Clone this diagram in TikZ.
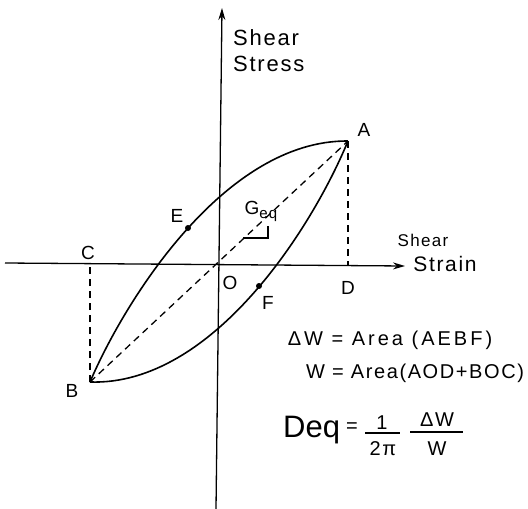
\documentclass[tikz,border=0pt]{standalone}
\usepackage{fontspec}
\setmainfont{Liberation Sans}
\newfontfamily\hand[LetterSpace=8]{Liberation Sans}
\newfontfamily\handwide[LetterSpace=15]{Liberation Sans}
\usetikzlibrary{arrows.meta}
\begin{document}
\begin{tikzpicture}[x=1pt,y=-1pt,
  axis/.style={line width=1.3pt,-{Stealth[length=12pt,width=7pt]}},
  curve/.style={line width=1.6pt},
  dashline/.style={line width=1.3pt,dash pattern=on 7pt off 5pt},
  lbl/.style={font=\hand\fontsize{19}{21}\selectfont,inner sep=0pt},
  eqn/.style={font=\hand\fontsize{20}{22}\selectfont,inner sep=0pt},
  bar/.style={line width=1.2pt},
  dot/.style={circle,fill=black,inner sep=0pt,minimum size=6pt}]
\useasboundingbox (0,0) rectangle (528,509);
\coordinate (O) at (219,263);
\coordinate (A) at (348,141);
\coordinate (B) at (90,382);
\coordinate (C) at (90,264);
\coordinate (D) at (348,266);
\coordinate (xl) at (5,263);
\coordinate (xr) at (405,266);
\coordinate (yb) at (216,509);
\coordinate (yt) at (222,8);
\coordinate (s1) at (243,238);
\coordinate (s2) at (268,238);
\coordinate (s3) at (268,226);
% axes
\draw[axis] (xl) -- (xr);
\draw[axis] (yb) -- (yt);
% dashed lines
\draw[dashline] (A) -- (D);
\draw[dashline] (B) -- (C);
\draw[dashline] (B) -- (A);
% loop
\draw[curve] (B) .. controls (125,300) and (225,140) .. (A);
\draw[curve] (A) .. controls (313,226) and (213,386) .. (B);
% slope mark
\draw[line width=1.2pt] (s1) -- (s2) -- (s3);
% points
\node[dot] (E) at (188,228) {};
\node[dot] (F) at (259,286) {};
% labels
\node[lbl] (lA) at (364,130) {A};
\node[lbl] (lB) at (72,391) {B};
\node[lbl] (lC) at (88,253) {C};
\node[lbl] (lD) at (348,288) {D};
\node[lbl] (lE) at (177,216) {E};
\node[lbl] (lF) at (268,303) {F};
\node[lbl] (lO) at (230,283) {O};
\node[lbl] (G) at (261,211) {G\raisebox{-4pt}{\fontsize{15}{15}\selectfont eq}};
\node[font=\hand\fontsize{22}{26}\selectfont,inner sep=0pt,align=left,anchor=north west] (ys) at (233,29) {Shear\\Stress};
\node[font=\hand\fontsize{17}{19}\selectfont,inner sep=0pt] (xs1) at (423,240) {Shear};
\node[font=\hand\fontsize{21}{23}\selectfont,inner sep=0pt] (xs2) at (445,264) {Strain};
% equations
\node[font=\handwide\fontsize{20}{22}\selectfont,inner sep=0pt] (e1) at (390,340) {ΔW = Area (AEBF)};
\node[eqn] (e2) at (415,373) {W = Area(AOD+BOC)};
\node[font=\rmfamily\fontsize{31}{33}\selectfont,inner sep=0pt,anchor=base west] (deq) at (283,437) {Deq};
\node[eqn] (eq) at (352,428) {=};
\node[eqn] (f1n) at (382,423) {1};
\node[eqn] (f1d) at (383,449) {2π};
\node[eqn] (f2n) at (437,420) {ΔW};
\node[eqn] (f2d) at (437,449) {W};
\coordinate (b1l) at (365,433);
\coordinate (b1r) at (400,433);
\coordinate (b2l) at (410,432);
\coordinate (b2r) at (463,432);
\draw[bar] (b1l) -- (b1r);
\draw[bar] (b2l) -- (b2r);
\end{tikzpicture}
\end{document}
